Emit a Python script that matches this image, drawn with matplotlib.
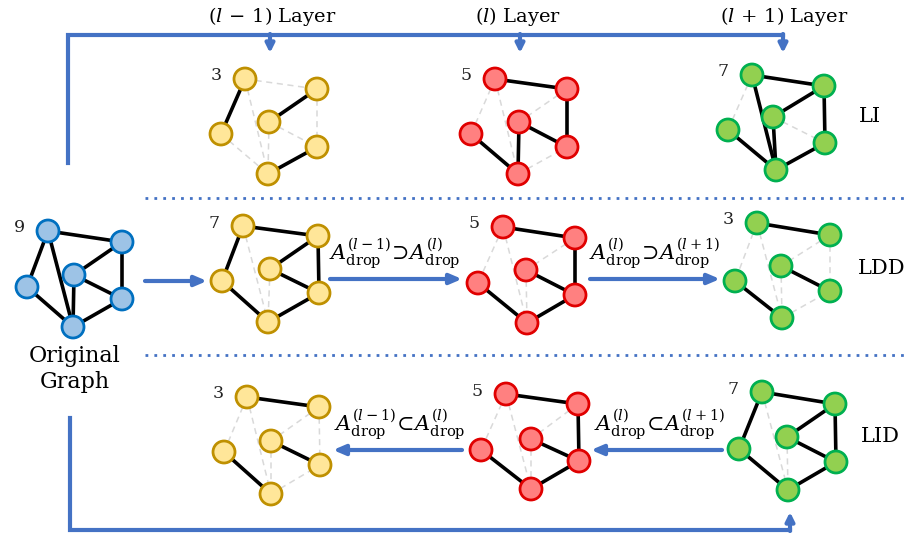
import matplotlib.pyplot as plt
from matplotlib.patches import Circle

# node order: top, upper-right, center, left, lower-right, bottom
all_edges = [(0, 1), (0, 3), (0, 5), (1, 2), (1, 4), (2, 4), (2, 5), (3, 5), (5, 4)]

graphs = {
    'orig':   [(48, 231), (122, 242), (74, 275), (27, 287), (122, 299), (73, 327)],
    'li_y':   [(245, 79), (317, 89), (269, 122), (221, 134), (317, 147), (268, 174)],
    'li_r':   [(495, 79), (567, 89), (519, 122), (471, 134), (567, 147), (518, 174)],
    'li_g':   [(752, 75), (824, 86), (773, 117), (728, 130), (825, 143), (776, 170)],
    'ldd_y':  [(243, 226), (318, 236), (270, 269), (222, 281), (319, 293), (268, 322)],
    'ldd_r':  [(503, 227), (575, 238), (526, 270), (478, 283), (575, 295), (527, 323)],
    'ldd_g':  [(757, 223), (830, 235), (781, 266), (735, 281), (830, 291), (782, 318)],
    'lid_y':  [(247, 397), (319, 407), (271, 441), (224, 452), (320, 465), (271, 494)],
    'lid_r':  [(506, 394), (578, 404), (531, 439), (481, 450), (579, 461), (531, 489)],
    'lid_g':  [(762, 392), (835, 404), (787, 437), (739, 449), (836, 462), (788, 490)],
}
kept = {
    'orig':  all_edges,
    'li_y':  [(0, 3), (1, 2), (5, 4)],
    'li_r':  [(0, 1), (1, 4), (2, 4), (2, 5), (3, 5)],
    'li_g':  [(0, 1), (0, 5), (1, 2), (1, 4), (2, 5), (3, 5), (5, 4)],
    'ldd_y': [(0, 1), (0, 3), (1, 2), (1, 4), (2, 4), (3, 5), (5, 4)],
    'ldd_r': [(0, 1), (1, 4), (2, 4), (3, 5), (5, 4)],
    'ldd_g': [(0, 1), (2, 4), (3, 5)],
    'lid_y': [(0, 1), (2, 4), (3, 5)],
    'lid_r': [(0, 1), (1, 4), (2, 4), (3, 5), (5, 4)],
    'lid_g': [(0, 1), (0, 3), (1, 2), (1, 4), (2, 4), (3, 5), (5, 4)],
}
colors = {
    'b': ('#9DC3E6', '#0070C0'),
    'y': ('#FFE699', '#BF9000'),
    'r': ('#FF8080', '#E00000'),
    'g': ('#92D050', '#00B050'),
}

blue = '#4472C4'

fig = plt.figure(figsize=(9.07, 5.35), dpi=100)
ax = fig.add_axes([0, 0, 1, 1])
ax.set_xlim(0, 907)
ax.set_ylim(535, 0)
ax.axis('off')

serif = 'DejaVu Serif'
plt.rcParams['mathtext.fontset'] = 'dejavuserif'

for name, pos in graphs.items():
    key = 'b' if name == 'orig' else name[-1]
    fill, edge = colors[key]
    for e in all_edges:
        (x1, y1), (x2, y2) = pos[e[0]], pos[e[1]]
        if e in kept[name]:
            ax.plot([x1, x2], [y1, y2], color='black', lw=2.6, zorder=2)
        else:
            ax.plot([x1, x2], [y1, y2], color='#D9D9D9', lw=1.1, ls=(0, (4, 3)), zorder=1)
    for x, y in pos:
        ax.add_patch(Circle((x, y), 11, facecolor=fill, edgecolor=edge, lw=2, zorder=3))
    tx, ty = pos[0]
    ax.text(tx - 29, ty - 3, str(len(kept[name])), fontsize=12.5, family=serif,
            ha='center', va='center', color='#222222')

# layer headings
for x, s in [(272, r'$(l\,-\,1)$ Layer'), (518, r'$(l)$ Layer'), (784, r'$(l\,+\,1)$ Layer')]:
    ax.text(x, 16, s, fontsize=14, family=serif, ha='center', va='center')

# top bracket
ax.plot([68, 68, 783], [163, 35, 35], color=blue, lw=3, solid_joinstyle='miter')
for x in [270, 520, 783]:
    ax.annotate('', xy=(x, 53), xytext=(x, 34),
                arrowprops=dict(arrowstyle='-|>,head_width=0.25,head_length=0.5',
                                color=blue, lw=3, shrinkA=0, shrinkB=0))

# bottom bracket
ax.plot([70, 70, 790], [418, 530, 530], color=blue, lw=3, solid_joinstyle='miter')
ax.annotate('', xy=(790, 512), xytext=(790, 531),
            arrowprops=dict(arrowstyle='-|>,head_width=0.25,head_length=0.5',
                            color=blue, lw=3, shrinkA=0, shrinkB=0))

# dotted separators
for y in [198, 355]:
    ax.plot([145, 907], [y, y], color=blue, lw=2, ls=(0, (1, 2.2)))

# horizontal arrows
arrows = [((145, 281), (207, 281)), ((330, 279), (462, 279)), ((590, 279), (720, 279)),
          ((462, 450), (333, 450)), ((722, 450), (591, 450))]
for start, end in arrows:
    ax.annotate('', xy=end, xytext=start,
                arrowprops=dict(arrowstyle='-|>,head_width=0.3,head_length=0.7',
                                color=blue, lw=3, shrinkA=0, shrinkB=0))

formulas = [(395, 254, r'$A_{\rm drop}^{(l-1)}\!\supset\! A_{\rm drop}^{(l)}$'),
            (655, 254, r'$A_{\rm drop}^{(l)}\!\supset\! A_{\rm drop}^{(l+1)}$'),
            (400, 425, r'$A_{\rm drop}^{(l-1)}\!\subset\! A_{\rm drop}^{(l)}$'),
            (660, 425, r'$A_{\rm drop}^{(l)}\!\subset\! A_{\rm drop}^{(l+1)}$')]
for x, y, s in formulas:
    ax.text(x, y, s, fontsize=15, ha='center', va='center')

for x, y, s in [(870, 117, 'LI'), (882, 268, 'LDD'), (880, 437, 'LID')]:
    ax.text(x, y, s, fontsize=15, family=serif, ha='center', va='center')

ax.text(75, 356, 'Original', fontsize=16, family=serif, ha='center', va='center')
ax.text(75, 382, 'Graph', fontsize=16, family=serif, ha='center', va='center')

fig.savefig('out.png', dpi=100)
